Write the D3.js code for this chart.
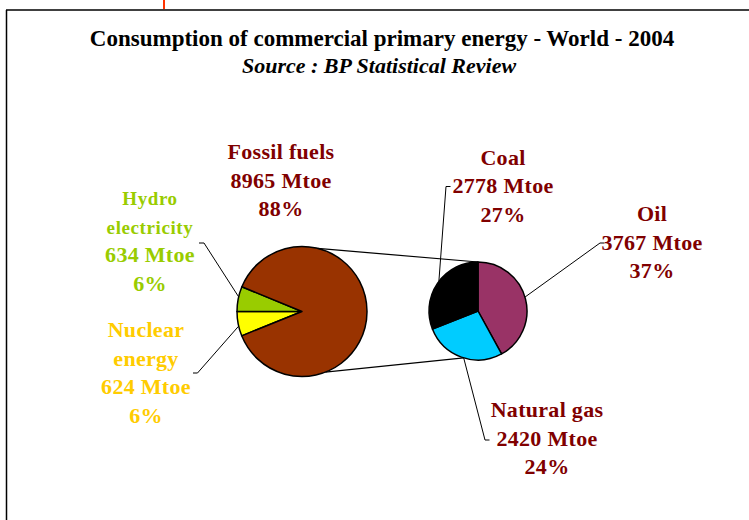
<!DOCTYPE html>
<html>
<head>
<meta charset="utf-8">
<script src="https://cdn.jsdelivr.net/npm/d3@7"></script>
<style>
  body { margin: 0; background: #fff; }
  text { font-family: "Liberation Serif", "Times New Roman", serif; font-weight: bold; }
</style>
</head>
<body>
<div id="chart"></div>
<script>
// world primary energy 2004, Mtoe
const mainNames = ['Nuclear energy', 'Hydro electricity', 'Fossil fuels'];
const mainValues = [624, 634, 8965];
const mainShares = ['6%', '6%', '88%'];
const mainColors = ['#ffff00', '#99cc00', '#993300'];
const mainText = ['#ffcc00', '#99cc00', '#800000'];

const fossilNames = ['Oil', 'Natural gas', 'Coal'];
const fossilValues = [3767, 2420, 2778];
const fossilShares = ['37%', '24%', '27%'];
const fossilColors = ['#993366', '#00ccff', '#000000'];

const width = 749;
const height = 520;
const lineH = 28.5;

const svg = d3.select('#chart').append('svg')
  .attr('width', width)
  .attr('height', height);

svg.append('rect').attr('width', width).attr('height', height).attr('fill', '#fff');

// slide frame
svg.append('line')
  .attr('x1', 164).attr('x2', 164).attr('y1', 0).attr('y2', 10)
  .attr('stroke', '#ff3300').attr('stroke-width', 2);
svg.append('line')
  .attr('x1', 6).attr('x2', width).attr('y1', 10).attr('y2', 10)
  .attr('stroke', '#404040').attr('stroke-width', 2);
svg.append('line')
  .attr('x1', 6.5).attr('x2', 6.5).attr('y1', 10).attr('y2', height)
  .attr('stroke', '#000').attr('stroke-width', 1.5);

svg.append('text')
  .attr('x', 382).attr('y', 46)
  .attr('text-anchor', 'middle')
  .style('font-size', '23px')
  .text('Consumption of commercial primary energy - World - 2004');
svg.append('text')
  .attr('x', 379).attr('y', 73)
  .attr('text-anchor', 'middle')
  .style('font-size', '22px')
  .style('font-style', 'italic')
  .text('Source : BP Statistical Review');

const main = { cx: 302, cy: 311.5, r: 65 };
const sub = { cx: 478, cy: 311, r: 49 };

const pt = (p, a, r) => [p.cx + (r || p.r) * Math.sin(a), p.cy - (r || p.r) * Math.cos(a)];
const rad = d => d * Math.PI / 180;

const total = d3.sum(mainValues);
const start = 1.5 * Math.PI - 2 * Math.PI * mainValues[0] / total;

const mainArcs = d3.pie().sort(null)
  .startAngle(start).endAngle(start + 2 * Math.PI)(mainValues);
const subArcs = d3.pie().sort(null)(fossilValues);

// connectors between the two pies
const links = [[rad(14), 0], [rad(159), rad(197)]];
svg.selectAll('.link')
  .data(links)
  .enter().append('line')
  .attr('class', 'link')
  .attr('x1', d => pt(main, d[0])[0])
  .attr('y1', d => pt(main, d[0])[1])
  .attr('x2', d => pt(sub, d[1])[0])
  .attr('y2', d => pt(sub, d[1])[1])
  .attr('stroke', '#000')
  .attr('stroke-width', 1.2);

const arcMain = d3.arc().innerRadius(0).outerRadius(main.r);
const arcSub = d3.arc().innerRadius(0).outerRadius(sub.r);

svg.append('g')
  .attr('transform', `translate(${main.cx},${main.cy})`)
  .selectAll('path')
  .data(mainArcs)
  .enter().append('path')
  .attr('d', arcMain)
  .attr('fill', (d, i) => mainColors[i])
  .attr('stroke', '#000')
  .attr('stroke-width', 1.5)
  .attr('stroke-linejoin', 'round');

svg.append('g')
  .attr('transform', `translate(${sub.cx},${sub.cy})`)
  .selectAll('path')
  .data(subArcs)
  .enter().append('path')
  .attr('d', arcSub)
  .attr('fill', (d, i) => fossilColors[i])
  .attr('stroke', '#000')
  .attr('stroke-width', 1.5)
  .attr('stroke-linejoin', 'round');

// label placement: centre x, first baseline, leader (elbow points + angle on pie)
const mainLayout = [
  { x: 146, y: 337, small: 0, split: true, leader: [[193, 373], [197.5, 373]], pie: main, a: rad(257) },
  { x: 150, y: 205, small: 2, split: true, leader: [[199, 243], [204, 243]], pie: main, a: rad(283) },
  { x: 281, y: 159, small: 0, split: false, leader: null }
];
const subLayout = [
  { x: 652, y: 221, small: 0, split: false, leader: [[604.5, 243], [600, 243]], pie: sub, a: rad(73.5) },
  { x: 547, y: 417, small: 0, split: false, leader: [[489.5, 440], [485, 440]], pie: sub, a: rad(197) },
  { x: 503, y: 164.5, small: 0, split: false, leader: [[450.5, 186.5], [446, 186.5]], pie: sub, a: rad(307) }
];

function drawLabels(names, values, shares, colors, layout) {
  names.forEach((name, i) => {
    const L = layout[i];
    const words = L.split ? name.split(' ') : [name];
    const lines = words.concat([`${values[i]} Mtoe`, shares[i]]);
    const t = svg.append('text')
      .attr('text-anchor', 'middle')
      .attr('fill', colors[i]);
    lines.forEach((s, j) => {
      t.append('tspan')
        .attr('x', L.x)
        .attr('y', L.y + j * lineH)
        .style('font-size', j < L.small ? '19px' : '22px')
        .style('letter-spacing', j < L.small ? '0.6px' : '0.3px')
        .text(s);
    });
    if (L.leader) {
      const pts = L.leader.concat([pt(L.pie, L.a)]);
      svg.append('path')
        .attr('d', d3.line()(pts))
        .attr('fill', 'none')
        .attr('stroke', '#000')
        .attr('stroke-width', 1);
    }
  });
}

drawLabels(mainNames, mainValues, mainShares, mainText, mainLayout);
drawLabels(fossilNames, fossilValues, fossilShares, fossilNames.map(() => '#800000'), subLayout);
</script>
</body>
</html>
